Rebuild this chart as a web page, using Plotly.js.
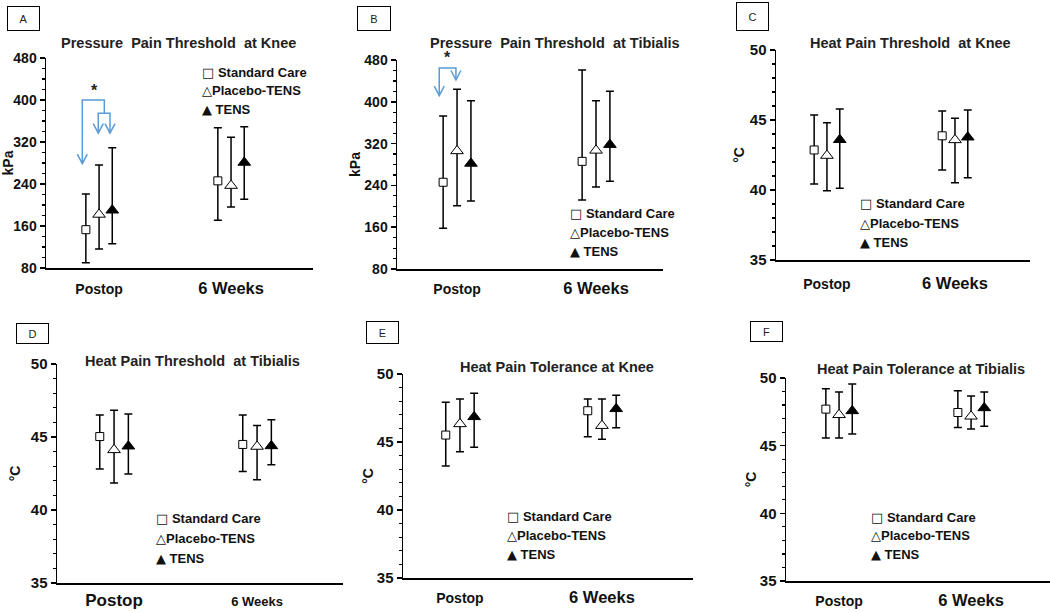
<!DOCTYPE html>
<html><head><meta charset="utf-8">
<script src="https://cdn.plot.ly/plotly-3.0.1.min.js"></script>
<style>html,body{margin:0;padding:0;background:#fff}#chart{width:1050px;height:612px}</style>
</head><body><div id="chart"></div>
<script>
// ---------- data ----------
const categories = ['Postop', '6 Weeks'];
const groups = ['Standard Care', 'Placebo-TENS', 'TENS'];
const panelLetters = ['A', 'B', 'C', 'D', 'E', 'F'];
const panelTitles = ['Pressure  Pain Threshold  at Knee', 'Pressure  Pain Threshold  at Tibialis',
  'Heat Pain Threshold  at Knee', 'Heat Pain Threshold  at Tibialis',
  'Heat Pain Tolerance at Knee', 'Heat Pain Tolerance at Tibialis'];
const units = ['kPa', 'kPa', '\u00B0C', '\u00B0C', '\u00B0C', '\u00B0C'];
const kpaTicks = [80, 160, 240, 320, 400, 480];
const celsiusTicks = [35, 40, 45, 50];

// rows: Standard Care, Placebo-TENS, TENS ; columns: Postop, 6 Weeks
const meanA = [[153, 246], [182, 237], [190, 281]];
const upperA = [[221, 347], [276, 329], [309, 349]];
const lowerA = [[90, 171], [116, 196], [126, 211]];

const meanB = [[246, 286], [306, 307], [282, 318]];
const upperB = [[373, 461], [424, 402], [402, 420]];
const lowerB = [[158, 212], [201, 237], [210, 248]];

const meanC = [[42.86, 43.87], [42.46, 43.58], [43.59, 43.77]];
const upperC = [[45.36, 45.64], [44.81, 45.12], [45.79, 45.71]];
const lowerC = [[40.43, 41.43], [39.95, 40.52], [40.12, 40.88]];

const meanD = [[45.03, 44.49], [44.12, 44.35], [44.37, 44.39]];
const upperD = [[46.51, 46.51], [46.83, 45.78], [46.58, 46.19]];
const lowerD = [[42.81, 42.63], [41.85, 42.08], [42.47, 43.10]];

const meanE = [[45.51, 47.30], [46.33, 46.20], [46.85, 47.44]];
const upperE = [[47.92, 48.16], [48.16, 48.16], [48.58, 48.43]];
const lowerE = [[43.24, 45.39], [44.29, 45.20], [44.61, 46.05]];

const meanF = [[47.70, 47.45], [47.28, 47.17], [47.57, 47.79]];
const upperF = [[49.21, 49.06], [48.97, 48.67], [49.56, 48.97]];
const lowerF = [[45.57, 46.35], [45.57, 46.23], [45.86, 46.43]];

// ---------- layout / style ----------
const W = 1050, H = 612;
const FONT = 'Liberation Sans, Arial, sans-serif';
const means = [meanA, meanB, meanC, meanD, meanE, meanF];
const uppers = [upperA, upperB, upperC, upperD, upperE, upperF];
const lowers = [lowerA, lowerB, lowerC, lowerD, lowerE, lowerF];

const frames = [
  {x: [46, 313], y: [58, 268], xr: [0.598, 2.621], yr: [80, 480], minor: 20, tf: 14, box: [23.5, 18.5, 33, 25], title: [178, 43], leg: [200, 72, 18.5], cat: [14, 16.5], so: 8, ts: 1},
  {x: [397, 663], y: [60, 269], xr: [0.568, 2.482], yr: [80, 480], minor: 20, tf: 14, box: [374, 18.5, 34, 25], title: [555, 43], leg: [568, 213, 19], cat: [14, 16.5], so: 7, ts: 0},
  {x: [776, 1030], y: [50, 260], xr: [0.602, 2.586], yr: [35, 50], minor: 1, tf: 15, box: [752.5, 16.5, 33, 29], title: [910, 43], leg: [858, 204, 19.5], cat: [14, 16.5], so: 11, ts: 2},
  {x: [57, 343], y: [364, 583], xr: [0.601, 2.601], yr: [35, 50], minor: 1, tf: 15, box: [32.5, 333.5, 33, 21], title: [192, 361], leg: [154, 518, 20], cat: [17, 13], so: 5, ts: 7},
  {x: [403, 693], y: [374, 578], xr: [0.599, 2.641], yr: [35, 50], minor: 1, tf: 15, box: [382.5, 332.5, 33, 23], title: [557, 367], leg: [505, 516, 19], cat: [14, 16.5], so: 7, ts: 0},
  {x: [786, 1050], y: [378, 581], xr: [0.598, 2.598], yr: [35, 50], minor: 1, tf: 15, box: [766.5, 331.5, 33, 21], title: [921, 369], leg: [869, 517, 18.5], cat: [14, 16.5], so: 7, ts: 0}
];
const offsets = [-0.1, 0, 0.1];
const markerStyles = [
  {symbol: 'square', size: 8, color: '#fff', line: {color: '#000', width: 1}},
  {symbol: 'triangle-up', size: 11, color: '#fff', line: {color: '#000', width: 1}},
  {symbol: 'triangle-up', size: 11, color: '#000', line: {color: '#000', width: 1}}
];
const legendGlyphs = ['\u25A1', '\u25B3', '\u25B2'];
const arrowColor = '#5b9bd5';

const data = [];
const layout = {
  width: W, height: H, margin: {l: 0, r: 0, t: 0, b: 0},
  paper_bgcolor: '#fff', plot_bgcolor: 'rgba(0,0,0,0)',
  showlegend: false, font: {family: FONT, color: '#111'},
  annotations: [], shapes: []
};

frames.forEach((f, p) => {
  const sfx = p === 0 ? '' : String(p + 1);
  const xa = 'xaxis' + sfx, ya = 'yaxis' + sfx;
  const ticks = f.yr[1] > 100 ? kpaTicks : celsiusTicks;
  layout[xa] = {
    domain: [f.x[0] / W, f.x[1] / W], range: f.xr, anchor: 'y' + sfx,
    showline: true, linecolor: '#000', linewidth: 1.5, ticks: '', showgrid: false, zeroline: false,
    tickvals: [1, 2],
    ticktext: categories.map((c, i) => `<span style="font-size:${f.cat[i]}px">${c}</span>`),
    tickfont: {family: FONT, size: 14, color: '#111', weight: 'bold'},
    ticklabelstandoff: f.so, fixedrange: true, automargin: false
  };
  layout[ya] = {
    domain: [1 - f.y[1] / H, 1 - f.y[0] / H], range: f.yr, anchor: 'x' + sfx,
    showline: true, linecolor: '#000', linewidth: 1.5, showgrid: false, zeroline: false,
    tickmode: 'array', tickvals: ticks, ticks: 'outside', ticklen: 5, tickwidth: 1.5, tickcolor: '#000',
    minor: {dtick: f.minor, ticks: 'outside', ticklen: 3, tickwidth: 1.2, tickcolor: '#000', showgrid: false},
    tickfont: {family: FONT, size: f.tf, color: '#111', weight: 'bold'},
    title: {text: units[p], standoff: f.ts, font: {family: FONT, size: 14, color: '#111', weight: 'bold'}},
    fixedrange: true, automargin: false
  };

  groups.forEach((g, gi) => {
    const m = means[p][gi], hi = uppers[p][gi], lo = lowers[p][gi];
    data.push({
      type: 'scatter', mode: 'markers', name: g,
      x: categories.map((c, ci) => ci + 1 + offsets[gi]),
      y: m,
      error_y: {type: 'data', symmetric: false,
        array: m.map((v, i) => hi[i] - v), arrayminus: m.map((v, i) => v - lo[i]),
        color: '#000', thickness: 1.5, width: 4},
      marker: markerStyles[gi],
      xaxis: 'x' + sfx, yaxis: 'y' + sfx, cliponaxis: false, hoverinfo: 'x+y+name'
    });
    // legend text
    layout.annotations.push({
      xref: 'paper', yref: 'paper', x: f.leg[0] / W, y: 1 - (f.leg[1] + gi * f.leg[2]) / H,
      xanchor: 'left', yanchor: 'middle', showarrow: false,
      text: `<span style="font-family:DejaVu Sans;font-size:13px;font-weight:normal">${legendGlyphs[gi]}</span>` + (gi === 1 ? '' : ' ') + g,
      font: {family: FONT, size: 13, color: '#111', weight: 'bold'}
    });
  });

  // panel letter box
  layout.annotations.push({
    xref: 'paper', yref: 'paper', x: f.box[0] / W, y: 1 - f.box[1] / H,
    xanchor: 'center', yanchor: 'middle', showarrow: false,
    text: panelLetters[p], font: {family: FONT, size: 11, color: '#222'},
    bordercolor: '#000', borderwidth: 1, borderpad: 0, width: f.box[2] - 2, height: f.box[3] - 2
  });
  // title
  layout.annotations.push({
    xref: 'paper', yref: 'paper', x: f.title[0] / W, y: 1 - f.title[1] / H,
    xanchor: 'center', yanchor: 'middle', showarrow: false,
    text: panelTitles[p], font: {family: FONT, size: 14.5, color: '#222', weight: 'bold'}
  });
});

// significance brackets (panels A and B)
function pxX(p, d) { const f = frames[p]; return d * (f.xr[1] - f.xr[0]) / (f.x[1] - f.x[0]); }
function pxY(p, d) { const f = frames[p]; return d * (f.yr[1] - f.yr[0]) / (f.y[1] - f.y[0]); }
function refs(p) { const s = p === 0 ? '' : String(p + 1); return {xref: 'x' + s, yref: 'y' + s}; }
function pathShape(p, pts) {
  return Object.assign({type: 'path', line: {color: arrowColor, width: 1.5},
    path: pts.map((q, i) => (i ? 'L' : 'M') + q[0] + ',' + q[1]).join(' ')}, refs(p));
}
function headShape(p, x, y) {
  const hw = pxX(p, 5), h = pxY(p, 9.5);
  return pathShape(p, [[x - hw, y + h], [x, y], [x + hw, y + h]]);
}
function star(p, x, y) {
  const f = frames[p], s = p === 0 ? '' : String(p + 1);
  // y given in data units; expressed as a fraction of the y-axis domain so it may sit above the range
  return {xref: 'x' + s, yref: 'y' + s + ' domain', x: x, y: (y - f.yr[0]) / (f.yr[1] - f.yr[0]),
    text: '*', showarrow: false, xanchor: 'center', yanchor: 'middle',
    font: {family: FONT, size: 16, color: '#222', weight: 'bold'}};
}
// Panel A: Standard Care vs Placebo-TENS and TENS at Postop
layout.shapes.push(pathShape(0, [[0.873, 279], [0.873, 400], [1.040, 400], [1.040, 375]]));
layout.shapes.push(pathShape(0, [[0.994, 337], [0.994, 375], [1.083, 375], [1.083, 337]]));
layout.shapes.push(headShape(0, 0.873, 279), headShape(0, 0.994, 337), headShape(0, 1.083, 337));
layout.annotations.push(star(0, 0.969, 419));
// Panel B: Standard Care vs Placebo-TENS at Postop
layout.shapes.push(pathShape(1, [[0.872, 411.7], [0.872, 464.7], [0.992, 464.7], [0.992, 441.7]]));
layout.shapes.push(headShape(1, 0.872, 411.7), headShape(1, 0.992, 441.7));
layout.annotations.push(star(1, 0.928, 484));

Plotly.newPlot('chart', data, layout, {displayModeBar: false, staticPlot: true});
</script>
</body></html>
